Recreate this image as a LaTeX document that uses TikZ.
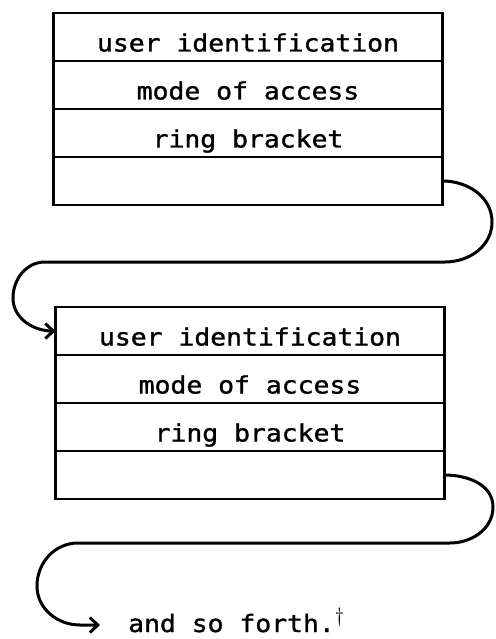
\documentclass[tikz,border=0pt]{standalone}
\usepackage{fontspec}
\newfontfamily\entryfont[FakeStretch=1.1,FakeBold=1.3]{DejaVu Sans Mono}
\usepackage{tikz}
\usetikzlibrary{arrows.meta,positioning}

\begin{document}
\begin{tikzpicture}[x=1pt,y=-1pt,
    field/.style={draw,line width=2.8pt,outer sep=0pt,inner sep=0pt,
        minimum width=389pt,minimum height=48pt,text height=29pt,text depth=0pt,
        font={\fontsize{24}{28}\entryfont}},
    link/.style={line width=3pt,line cap=round,-{Straight Barb[length=8pt,width=15pt]}}]
    \useasboundingbox (0,0) rectangle (495,639);

    % First entry
    \node[field] (user1) at (248,37) {user identification};
    \node[field,below=0pt of user1] (mode1) {mode of access};
    \node[field,below=0pt of mode1] (ring1) {ring bracket};
    \node[field,below=0pt of ring1] (next1) {};

    % Second entry
    \node[field] (user2) at (250,331) {user identification};
    \node[field,below=0pt of user2] (mode2) {mode of access};
    \node[field,below=0pt of mode2] (ring2) {ring bracket};
    \node[field,below=0pt of ring2] (next2) {};

    % And so on
    \coordinate (tip) at (100,625);
    \node[anchor=base west,inner sep=0pt,font={\fontsize{24}{28}\entryfont}] (etc) at (128,632)
        {and so forth.\raisebox{10pt}{\fontsize{20}{20}\selectfont$\dagger$}};

    % Links
    \draw[link] (next1.east) to[out=0,in=90] (492,222) to[out=-90,in=0] (445,262)
        -- (45,262) to[out=180,in=90] (13,298) to[out=-90,in=180] (user2.west);
    \draw[link] (next2.east) to[out=0,in=90] (493,507) to[out=-90,in=0] (450,543)
        -- (78,543) to[out=180,in=90] (37,586) to[out=-90,in=180] (80,625) -- (tip);

\end{tikzpicture}
\end{document}
